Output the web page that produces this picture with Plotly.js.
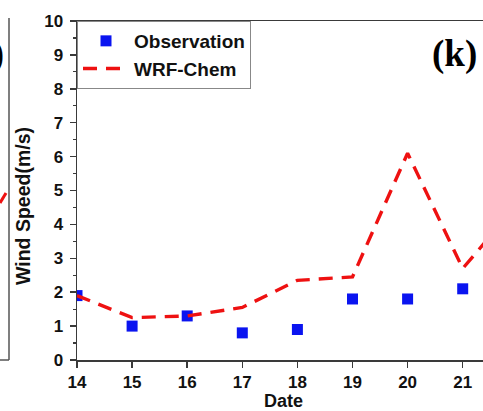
<!DOCTYPE html>
<html>
<head>
<meta charset="utf-8">
<script src="https://cdn.plot.ly/plotly-3.0.1.min.js"></script>
<style>html,body{margin:0;padding:0;background:#fff;}#chart{width:483px;height:411px;}</style>
</head>
<body>
<div id="chart"></div>
<script>
// Data
const obsDates = [14, 15, 16, 17, 18, 19, 20, 21];
const obsValues = [1.9, 1.0, 1.3, 0.8, 0.9, 1.8, 1.8, 2.1];
const wrfDates = [14, 15, 16, 17, 18, 19, 20, 21, 22];
const wrfValues = [1.9, 1.25, 1.3, 1.55, 2.35, 2.45, 6.1, 2.7, 4.6];
const xTickVals = [14, 15, 16, 17, 18, 19, 20, 21];
const yTickVals = [0, 1, 2, 3, 4, 5, 6, 7, 8, 9, 10];

const W = 483, H = 411;
const L = 77, R = 0, T = 21, B = 51;
const pw = W - L - R, ph = H - T - B;
const px = p => (p - L) / pw;          // pixel x -> paper x
const py = p => (H - B - p) / ph;      // pixel y -> paper y

const axisCol = '#3a3a3a';
const sans = 'Liberation Sans, Arial, sans-serif';
const tickFont = {family: sans, size: 17, color: '#111', weight: 'bold'};

const traces = [
  {
    x: obsDates, y: obsValues, name: 'Observation', type: 'scatter', mode: 'markers',
    marker: {symbol: 'square', size: 11, color: '#0a14f0'}
  },
  {
    x: wrfDates, y: wrfValues, name: 'WRF-Chem', type: 'scatter', mode: 'lines',
    line: {color: '#ee1111', width: 3.4, dash: '14px,9px'}
  }
];

const layout = {
  width: W, height: H,
  margin: {l: L, r: R, t: T, b: B, pad: 0},
  paper_bgcolor: '#fff', plot_bgcolor: '#fff',
  showlegend: true,
  legend: {
    x: 0, y: 1, xanchor: 'left', yanchor: 'top',
    bgcolor: 'rgba(255,255,255,0)', bordercolor: '#888', borderwidth: 1,
    font: {family: sans, size: 19, color: '#111', weight: 'bold'},
    itemwidth: 46, tracegroupgap: 0
  },
  xaxis: {
    range: [14, 14 + pw / 55.1], tickvals: xTickVals, ticktext: xTickVals.map(String),
    showgrid: false, zeroline: false, showline: true, linecolor: axisCol, linewidth: 1.5,
    mirror: true, ticks: 'outside', ticklen: 6, tickwidth: 1.5, tickcolor: axisCol,
    tickfont: tickFont, automargin: false
  },
  yaxis: {
    range: [0, 10], tickvals: yTickVals,
    showgrid: false, zeroline: false, showline: true, linecolor: axisCol, linewidth: 1.5,
    ticks: 'outside', ticklen: 6, tickwidth: 1.5, tickcolor: axisCol, ticklabelstandoff: 3,
    minor: {dtick: 0.5, ticks: 'outside', ticklen: 3, tickwidth: 1.2, tickcolor: axisCol, showgrid: false},
    tickfont: tickFont, automargin: false
  },
  shapes: [
    // fragment of neighbouring panel on the left
    {type: 'line', xref: 'paper', yref: 'paper', x0: px(9), x1: px(9), y0: py(18), y1: py(360), line: {color: '#555', width: 1.5}},
    {type: 'line', xref: 'paper', yref: 'paper', x0: px(-2), x1: px(9), y0: py(360), y1: py(360), line: {color: '#555', width: 1.5}},
    {type: 'line', xref: 'paper', yref: 'paper', x0: px(0), x1: px(6), y0: py(203), y1: py(193), line: {color: '#ee1111', width: 3}}
  ],
  annotations: [
    {text: '<b>(k)</b>', xref: 'paper', yref: 'paper', x: px(479), y: py(54), xanchor: 'right', yanchor: 'middle',
     showarrow: false, font: {family: 'Liberation Serif, Times New Roman, serif', size: 37, color: '#000'}},
    {text: '<b>(j)</b>', xref: 'paper', yref: 'paper', x: px(6), y: py(54), xanchor: 'right', yanchor: 'middle',
     showarrow: false, font: {family: 'Liberation Serif, Times New Roman, serif', size: 37, color: '#000'}},
    {text: '<b>Date</b>', xref: 'paper', yref: 'paper', x: px(283), y: py(6), xanchor: 'center', yanchor: 'bottom',
     showarrow: false, font: {family: sans, size: 18, color: '#111'}},
    {text: '<b>Date</b>', xref: 'paper', yref: 'paper', x: px(283), y: py(401), xanchor: 'center', yanchor: 'middle',
     showarrow: false, font: {family: sans, size: 18, color: '#111'}},
    {text: '<b>Wind Speed(m/s)</b>', xref: 'paper', yref: 'paper', x: px(23), y: py(206), xanchor: 'center', yanchor: 'middle',
     textangle: -90, showarrow: false, font: {family: sans, size: 19.5, color: '#111'}}
  ]
};

Plotly.newPlot('chart', traces, layout, {displayModeBar: false, staticPlot: true});
</script>
</body>
</html>
